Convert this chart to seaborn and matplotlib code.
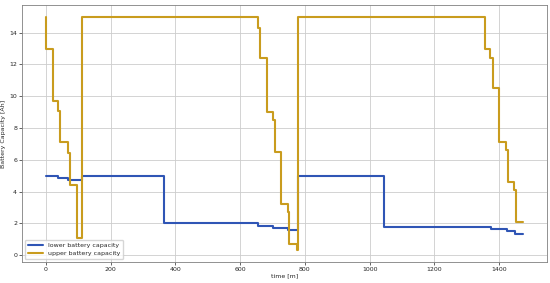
import matplotlib
matplotlib.use("Agg")
import matplotlib.pyplot as plt
import seaborn as sns
import pandas as pd

upper_time = [0, 1, 21, 39, 45, 67, 74, 95, 113, 654, 660, 683, 700, 707, 727, 747, 752, 776, 778,
              1355, 1373, 1380, 1401, 1420, 1427, 1447, 1453, 1474]
upper_cap = [15, 13, 9.7, 9.1, 7.1, 6.4, 4.4, 1.1, 15, 14.3, 12.4, 9.0, 8.5, 6.5, 3.2, 2.7, 0.7, 0.3, 15,
             13.0, 12.4, 10.5, 7.1, 6.6, 4.6, 4.1, 2.1, 2.1]
lower_time = [0, 39, 67, 113, 364, 654, 700, 747, 778, 1044, 1376, 1423, 1448, 1474]
lower_cap = [5.0, 4.85, 4.7, 5.0, 2.0, 1.84, 1.7, 1.57, 5.0, 1.76, 1.63, 1.5, 1.36, 1.36]

df = pd.concat([
    pd.DataFrame({"time": lower_time, "cap": lower_cap, "series": "lower battery capacity"}),
    pd.DataFrame({"time": upper_time, "cap": upper_cap, "series": "upper battery capacity"}),
])

sns.set_theme(style="ticks")
fig = plt.figure(figsize=(5.5, 2.83), dpi=100)
ax = fig.add_axes([0.04, 0.074, 0.9545, 0.908])
sns.lineplot(data=df, x="time", y="cap", hue="series", drawstyle="steps-post",
             palette={"lower battery capacity": "#2f55b5", "upper battery capacity": "#c99c1e"},
             linewidth=1.5, ax=ax, estimator=None, sort=False)
ax.grid(True, color="#cccccc", linewidth=0.6)
ax.set_xticks([0, 200, 400, 600, 800, 1000, 1200, 1400])
ax.set_yticks([0, 2, 4, 6, 8, 10, 12, 14])
ax.tick_params(labelsize=4.5, length=2, width=0.5, pad=1.5)
ax.set_xlabel("time [m]", fontsize=4.5, labelpad=1)
ax.set_ylabel("Battery Capacity [Ah]", fontsize=4.5, labelpad=2)
for s in ax.spines.values():
    s.set_color("#808080")
    s.set_linewidth(0.6)
leg = ax.legend(loc="lower left", fontsize=4.5, frameon=True, handlelength=2.5)
leg.set_title(None)
fig.savefig("out.png", dpi=100)
